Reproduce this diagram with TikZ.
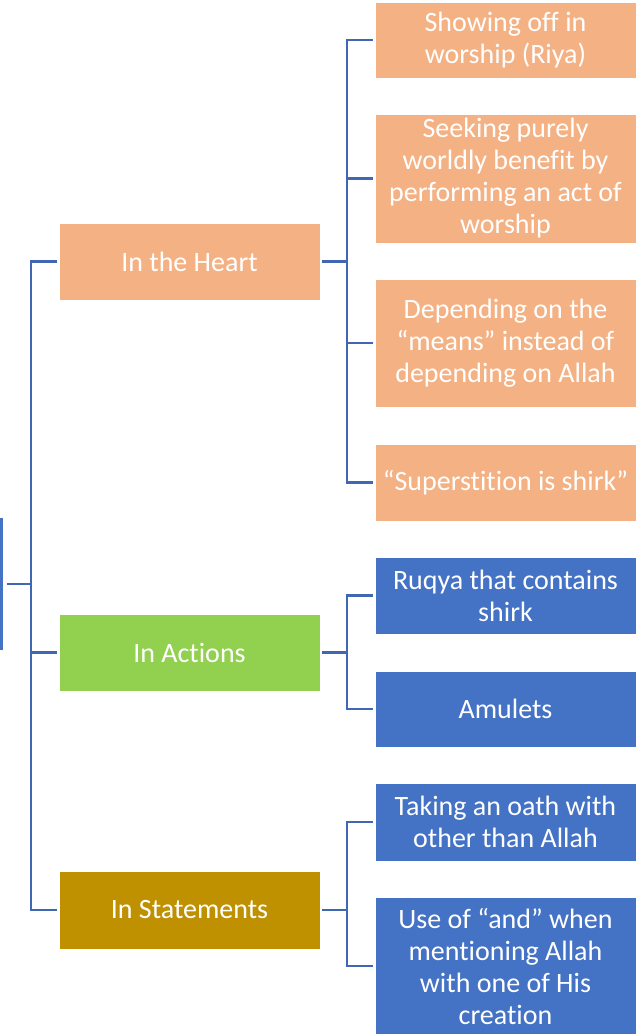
\documentclass[tikz,border=0pt]{standalone}
\usepackage{fontspec}
\setmainfont{Carlito}[Ligatures=NoCommon]
\definecolor{heartc}{HTML}{F4B183}
\definecolor{actc}{HTML}{92D050}
\definecolor{statc}{HTML}{BF9000}
\definecolor{bluec}{HTML}{4472C4}
\definecolor{linec}{HTML}{4267B2}
\tikzset{
  box/.style={rectangle, draw=white, line width=0.6pt, text=white, align=center,
    inner sep=0pt, font=\fontsize{28}{32}\selectfont, minimum width=261pt},
  conn/.style={draw=linec, line width=2.5pt},
}
\begin{document}
\begin{tikzpicture}[x=1pt,y=-1pt]
\useasboundingbox (0,0) rectangle (641,1034);
% root
\node[rectangle, fill=bluec, inner sep=0pt, minimum width=3pt, minimum height=132pt] (root) at (1.5,584) {};
% level 1
\node[box, fill=heartc, minimum height=77pt] (heart) at (189.5,261.5) {In the Heart};
\node[box, fill=actc, minimum height=77pt] (act) at (189.5,652.5) {In Actions};
\node[box, fill=statc, minimum height=78pt] (stat) at (189.5,910) {In Statements};
% level 2
\node[box, fill=heartc, minimum height=76pt] (h1) at (505.5,40) {Showing off in\\worship (Riya)};
\node[box, fill=heartc, minimum height=129pt] (h2) at (505.5,178.5) {Seeking purely\\worldly benefit by\\performing an act of\\worship};
\node[box, fill=heartc, minimum height=128pt] (h3) at (505.5,343) {Depending on the\\“means” instead of\\depending on Allah};
\node[box, fill=heartc, minimum height=77pt] (h4) at (505.5,482.5) {“Superstition is shirk”};
\node[box, fill=bluec, minimum height=77pt] (a1) at (505.5,595.5) {Ruqya that contains\\shirk};
\node[box, fill=bluec, minimum height=76pt] (a2) at (505.5,709) {Amulets};
\node[box, fill=bluec, minimum height=78pt] (s1) at (505.5,822) {Taking an oath with\\other than Allah};
\node[box, fill=bluec, minimum height=138pt] (s2) at (505.5,966) {Use of “and” when\\mentioning Allah\\with one of His\\creation};
% trunk coordinates
\coordinate (t0) at (31,584);
\coordinate (th) at (347,261.5);
\coordinate (ta) at (347,652.5);
\coordinate (ts) at (347,910);
% connectors root -> level 1
\draw[conn] ([xshift=4pt]root.east) -- (t0);
\foreach \n in {heart,act,stat} \draw[conn, shorten >=2pt] (t0) |- (\n.west);
% level 1 -> level 2
\draw[conn, shorten <=2pt] (heart.east) -- (th);
\foreach \n in {h1,h2,h3,h4} \draw[conn, shorten >=2pt] (th) |- (\n.west);
\draw[conn, shorten <=2pt] (act.east) -- (ta);
\foreach \n in {a1,a2} \draw[conn, shorten >=2pt] (ta) |- (\n.west);
\draw[conn, shorten <=2pt] (stat.east) -- (ts);
\foreach \n in {s1,s2} \draw[conn, shorten >=2pt] (ts) |- (\n.west);
\end{tikzpicture}
\end{document}
